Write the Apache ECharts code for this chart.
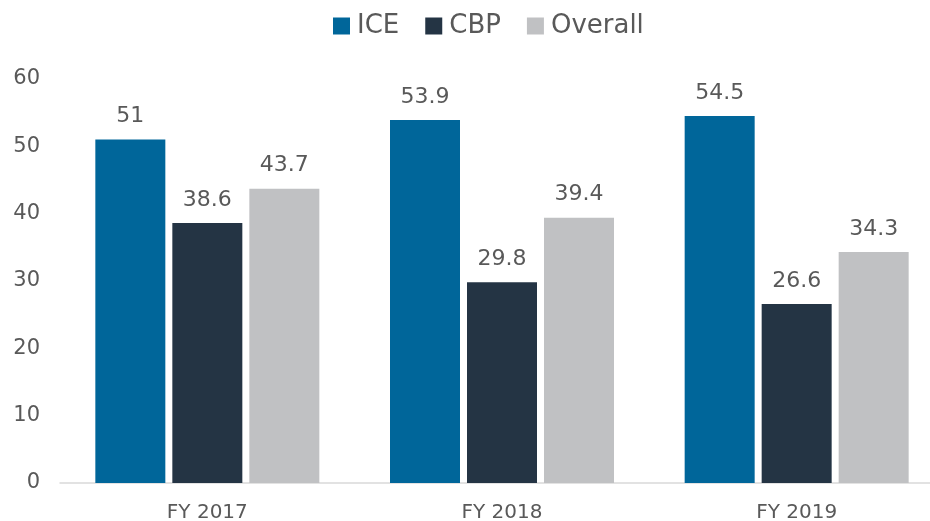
<!DOCTYPE html>
<html><head><meta charset="utf-8">
<script src="https://cdn.jsdelivr.net/npm/echarts@6/dist/echarts.min.js"></script>
<style>html,body{margin:0;padding:0;background:#fff}#c{width:930px;height:521px}</style>
</head><body><div id="c"></div>
<script>
const categories = ['FY 2017', 'FY 2018', 'FY 2019'];
const seriesNames = ['ICE', 'CBP', 'Overall'];
const iceValues = [51, 53.9, 54.5];
const cbpValues = [38.6, 29.8, 26.6];
const overallValues = [43.7, 39.4, 34.3];
const colors = ['#00669A', '#243444', '#C0C1C3'];
const font = '"DejaVu Sans", sans-serif';
const textColor = '#595959';

const chart = echarts.init(document.getElementById('c'));
const mk = (name, data, color) => ({
  name, type: 'bar', data, barWidth: 70, barGap: '10%',
  itemStyle: { color },
  label: { show: true, position: 'top', distance: 12, color: textColor, fontSize: 22, fontFamily: font },
  emphasis: { disabled: true }
});
chart.setOption({
  animation: false,
  color: colors,
  legend: {
    top: 8, left: 328, itemWidth: 17, itemHeight: 17, itemGap: 26,
    icon: 'rect',
    textStyle: { color: textColor, fontSize: 26, fontFamily: font, padding: [0, 0, 0, 2] },
    data: seriesNames
  },
  grid: { left: 60, width: 884, top: 79, height: 404, containLabel: false, outerBoundsMode: 'none' },
  xAxis: {
    type: 'category', data: categories,
    axisLine: { lineStyle: { color: '#D9D9D9', width: 1.5 } },
    axisTick: { show: false },
    axisLabel: { color: textColor, fontSize: 20, fontFamily: font, margin: 20 }
  },
  yAxis: {
    type: 'value', min: 0, max: 60, interval: 10,
    splitLine: { show: false },
    axisLine: { show: false }, axisTick: { show: false },
    axisLabel: { color: textColor, fontSize: 21, fontFamily: font, margin: 20 }
  },
  series: [
    mk(seriesNames[0], iceValues, colors[0]),
    mk(seriesNames[1], cbpValues, colors[1]),
    mk(seriesNames[2], overallValues, colors[2])
  ]
});
</script></body></html>
